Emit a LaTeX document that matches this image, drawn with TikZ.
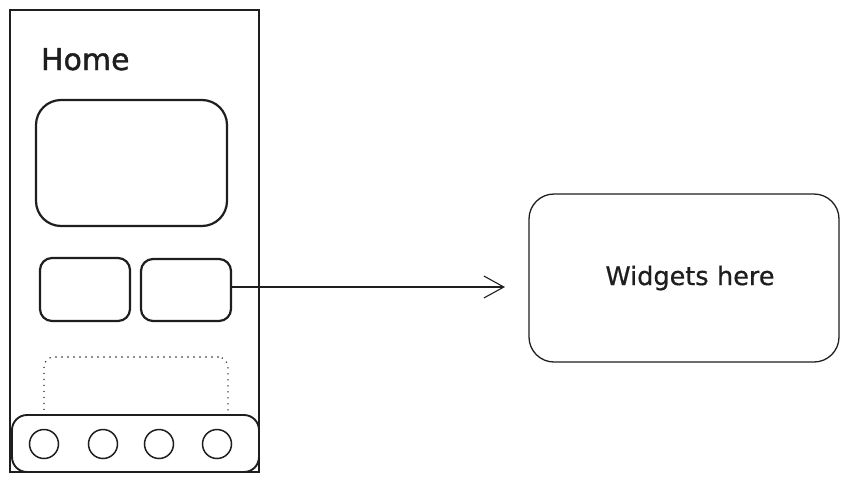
\documentclass[tikz,border=0pt]{standalone}
\usepackage{fontspec}
\setmainfont{DejaVu Sans}
\newfontfamily\heavyfont[FakeBold=1.2]{DejaVu Sans}
\newfontfamily\midfont[FakeBold=0.6]{DejaVu Sans}
\usetikzlibrary{arrows.meta}
\definecolor{ink}{HTML}{1E1E1E}
\begin{document}
\begin{tikzpicture}[x=1pt,y=-1pt,
  every node/.style={inner sep=0pt,outer sep=0pt,text=ink},
  box/.style={draw=ink,line width=2.2pt,rounded corners=#1,fill=white},
  box/.default=12pt,
  dotbox/.style={draw=ink,line width=1.6pt,line cap=round,dash pattern=on 0pt off 6pt,rounded corners=10pt},
  dot/.style={draw=ink,line width=1.5pt,circle,minimum size=29pt},
  link/.style={draw=ink,line width=1.1pt,-{Straight Barb[length=20pt,width=22pt,line width=1.1pt]}}]
\useasboundingbox (0,0) rectangle (848,482);
% phone frame
\node[draw=ink,line width=1.6pt,minimum width=249pt,minimum height=462pt] (frame) at (134.5,241) {};
\node[anchor=base west,font=\heavyfont\fontsize{30}{36}\selectfont] (home) at (41,70) {Home};
\node[box=25pt,minimum width=191pt,minimum height=126pt] (hero) at (131.5,163) {};
\node[box,minimum width=90pt,minimum height=63pt] (left) at (85,289.5) {};
\node[box,minimum width=90pt,minimum height=62pt] (right) at (186,290) {};
\node[dotbox,minimum width=184pt,minimum height=73pt] (slot) at (136,393.5) {};
\node[box=15pt,line width=1.9pt,minimum width=247pt,minimum height=57pt] (bar) at (135.5,443.5) {};
\node[dot] (c1) at (44,444) {};
\node[dot] (c2) at (103,444) {};
\node[dot] (c3) at (159,444) {};
\node[dot] (c4) at (217,444) {};
% widgets
\node[draw=ink,line width=1.3pt,rounded corners=25pt,minimum width=310pt,minimum height=168pt,
      font=\midfont\fontsize{25.5}{30}\selectfont,text width=300pt,align=center] (widgets) at (684,278) {\hspace*{12pt}Widgets here};
\coordinate (tip) at (505,287);
\draw[link] (right.east |- tip) -- (tip);
\end{tikzpicture}
\end{document}
